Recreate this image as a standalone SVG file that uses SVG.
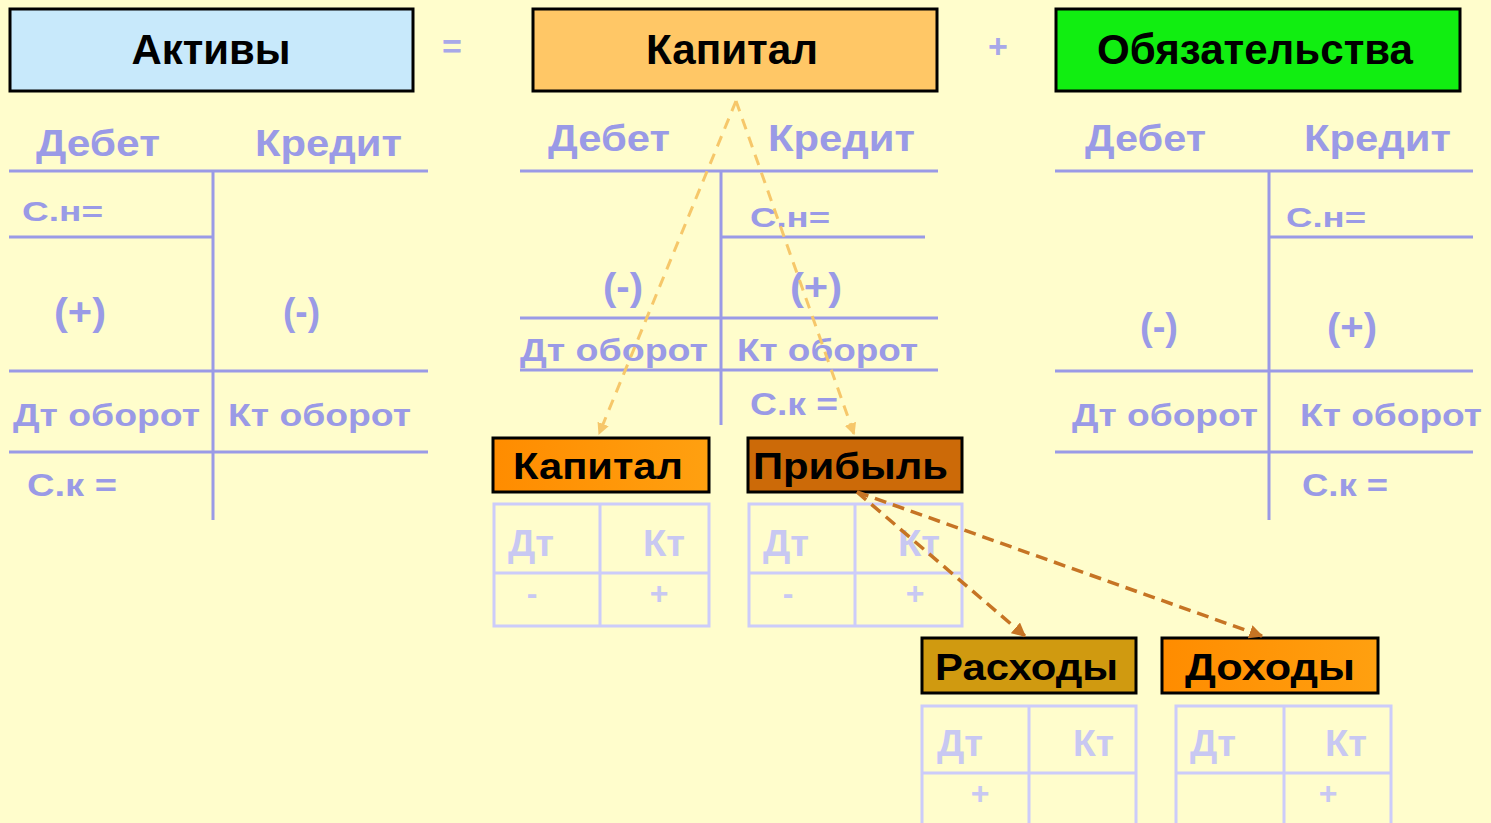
<svg xmlns="http://www.w3.org/2000/svg" width="1491" height="823" viewBox="0 0 1491 823">
<style>
text{font-family:"Liberation Sans",Arial,sans-serif;font-weight:bold}
.hd{font-size:42px;fill:#000;text-anchor:middle}
.box{stroke:#000;stroke-width:3}
.tl{stroke:#9A9AE6;stroke-width:3;fill:none}
.tt{fill:#9A9AE6}
.big{font-size:36px}
.sm{font-size:28px}
.par{font-size:38px}
.mid{font-size:31px}
.lab{font-size:36px;fill:#000}
.ft{stroke:#CCCCFA;stroke-width:3;fill:none}
.fx{fill:#C8C8F2;font-size:36px}
.fs{fill:#C8C8F2;font-size:32px;text-anchor:middle}
.sign{fill:#A8A8E8;font-size:34px;text-anchor:middle}
.c1{stroke:#F6C76A;stroke-width:3;stroke-dasharray:11 8;fill:none}
.c2{stroke:#C67424;stroke-width:3.5;stroke-dasharray:12 7;fill:none}
</style>
<defs>
<marker id="a1" viewBox="0 0 10 10" refX="9" refY="5" markerWidth="4" markerHeight="4" orient="auto"><path d="M0,0 L10,5 L0,10 z" fill="#F6C76A"/></marker>
<marker id="a2" viewBox="0 0 10 10" refX="9" refY="5" markerWidth="4" markerHeight="4" orient="auto"><path d="M0,0 L10,5 L0,10 z" fill="#C67424"/></marker>
<linearGradient id="og" x1="0" y1="0" x2="1" y2="0"><stop offset="0" stop-color="#FF8C00"/><stop offset="1" stop-color="#FFA010"/></linearGradient>
</defs>
<rect width="1491" height="823" fill="#FFFDCC"/>

<g id="aktivy">
<rect class="box" x="10" y="9" width="403" height="82" fill="#C8E9FB"/>
<text class="hd" x="211" y="64" textLength="159" lengthAdjust="spacingAndGlyphs">Активы</text>
</g>
<text id="eq" class="sign" x="452" y="58">=</text>
<g id="kapital">
<rect class="box" x="533" y="9" width="404" height="82" fill="#FFC766"/>
<text class="hd" x="732" y="64" textLength="172" lengthAdjust="spacingAndGlyphs">Капитал</text>
</g>
<text id="plus" class="sign" x="998" y="58">+</text>
<g id="obyaz">
<rect class="box" x="1056" y="9" width="404" height="82" fill="#11EE11"/>
<text class="hd" x="1255" y="64" textLength="316" lengthAdjust="spacingAndGlyphs">Обязательства</text>
</g>

<g id="t-aktivy">
<path class="tl" d="M9,171 H428 M213,171 V520 M9,237 H213 M9,371 H428 M9,452 H428"/>
<text class="tt big" x="36" y="156" textLength="124" lengthAdjust="spacingAndGlyphs">Дебет</text>
<text class="tt big" x="255" y="156" textLength="147" lengthAdjust="spacingAndGlyphs">Кредит</text>
<text class="tt sm" x="22" y="221" textLength="81" lengthAdjust="spacingAndGlyphs">С.н=</text>
<text class="tt par" x="54" y="325" textLength="52" lengthAdjust="spacingAndGlyphs">(+)</text>
<text class="tt par" x="283" y="325" textLength="37" lengthAdjust="spacingAndGlyphs">(-)</text>
<text class="tt mid" x="13" y="426" textLength="187" lengthAdjust="spacingAndGlyphs">Дт оборот</text>
<text class="tt mid" x="228" y="426" textLength="183" lengthAdjust="spacingAndGlyphs">Кт оборот</text>
<text class="tt mid" x="27" y="496" textLength="90" lengthAdjust="spacingAndGlyphs">С.к =</text>
</g>

<g id="t-kapital">
<path class="tl" d="M520,171 H938 M721,171 V425 M721,237 H925 M520,318 H938 M520,370 H938"/>
<text class="tt big" x="548" y="151" textLength="122" lengthAdjust="spacingAndGlyphs">Дебет</text>
<text class="tt big" x="768" y="151" textLength="147" lengthAdjust="spacingAndGlyphs">Кредит</text>
<text class="tt sm" x="750" y="227" textLength="80" lengthAdjust="spacingAndGlyphs">С.н=</text>
<text class="tt par" x="603" y="300" textLength="40" lengthAdjust="spacingAndGlyphs">(-)</text>
<text class="tt par" x="790" y="300" textLength="52" lengthAdjust="spacingAndGlyphs">(+)</text>
<text class="tt mid" x="520" y="361" textLength="188" lengthAdjust="spacingAndGlyphs">Дт оборот</text>
<text class="tt mid" x="737" y="361" textLength="181" lengthAdjust="spacingAndGlyphs">Кт оборот</text>
<text class="tt mid" x="750" y="415" textLength="88" lengthAdjust="spacingAndGlyphs">С.к =</text>
</g>

<g id="t-obyaz">
<path class="tl" d="M1055,171 H1473 M1269,171 V520 M1269,237 H1473 M1055,371 H1473 M1055,452 H1473"/>
<text class="tt big" x="1085" y="151" textLength="121" lengthAdjust="spacingAndGlyphs">Дебет</text>
<text class="tt big" x="1304" y="151" textLength="147" lengthAdjust="spacingAndGlyphs">Кредит</text>
<text class="tt sm" x="1286" y="227" textLength="80" lengthAdjust="spacingAndGlyphs">С.н=</text>
<text class="tt par" x="1140" y="340" textLength="38" lengthAdjust="spacingAndGlyphs">(-)</text>
<text class="tt par" x="1327" y="340" textLength="50" lengthAdjust="spacingAndGlyphs">(+)</text>
<text class="tt mid" x="1072" y="426" textLength="186" lengthAdjust="spacingAndGlyphs">Дт оборот</text>
<text class="tt mid" x="1300" y="426" textLength="182" lengthAdjust="spacingAndGlyphs">Кт оборот</text>
<text class="tt mid" x="1302" y="496" textLength="86" lengthAdjust="spacingAndGlyphs">С.к =</text>
</g>

<g id="kapital2">
<rect class="box" x="493" y="438" width="216" height="54" fill="url(#og)"/>
<text class="lab" x="513" y="479" textLength="170" lengthAdjust="spacingAndGlyphs">Капитал</text>
<path class="ft" d="M494,504 H709 V626 H494 Z M600,504 V626 M494,573 H709"/>
<text class="fx" x="508" y="556" textLength="46" lengthAdjust="spacingAndGlyphs">Дт</text>
<text class="fx" x="643" y="556" textLength="42" lengthAdjust="spacingAndGlyphs">Кт</text>
<text class="fs" x="532" y="604">-</text>
<text class="fs" x="659" y="604">+</text>
</g>

<g id="pribyl">
<rect class="box" x="748" y="438" width="214" height="54" fill="#CC6A08"/>
<text class="lab" x="753" y="479" textLength="195" lengthAdjust="spacingAndGlyphs">Прибыль</text>
<path class="ft" d="M749,504 H962 V626 H749 Z M855,504 V626 M749,573 H962"/>
<text class="fx" x="763" y="556" textLength="46" lengthAdjust="spacingAndGlyphs">Дт</text>
<text class="fx" x="898" y="556" textLength="42" lengthAdjust="spacingAndGlyphs">Кт</text>
<text class="fs" x="788" y="604">-</text>
<text class="fs" x="915" y="604">+</text>
</g>

<g id="raskhody">
<rect class="box" x="922" y="638" width="214" height="55" fill="#D09A10"/>
<text class="lab" x="935" y="680" textLength="183" lengthAdjust="spacingAndGlyphs">Расходы</text>
<path class="ft" d="M922,835 V706 H1136 V835 M1029,706 V835 M922,773 H1136"/>
<text class="fx" x="937" y="756" textLength="46" lengthAdjust="spacingAndGlyphs">Дт</text>
<text class="fx" x="1073" y="756" textLength="41" lengthAdjust="spacingAndGlyphs">Кт</text>
<text class="fs" x="980" y="804">+</text>
</g>

<g id="dokhody">
<rect class="box" x="1162" y="638" width="216" height="55" fill="url(#og)"/>
<text class="lab" x="1185" y="680" textLength="170" lengthAdjust="spacingAndGlyphs">Доходы</text>
<path class="ft" d="M1176,835 V706 H1391 V835 M1284,706 V835 M1176,773 H1391"/>
<text class="fx" x="1190" y="756" textLength="46" lengthAdjust="spacingAndGlyphs">Дт</text>
<text class="fx" x="1325" y="756" textLength="42" lengthAdjust="spacingAndGlyphs">Кт</text>
<text class="fs" x="1328" y="804">+</text>
</g>

<g id="connectors">
<path class="c1" d="M736,101 L599,434" marker-end="url(#a1)"/>
<path class="c1" d="M736,101 L854,434" marker-end="url(#a1)"/>
<path class="c2" d="M857,492 L1025,636" marker-end="url(#a2)"/>
<path class="c2" d="M857,492 L1262,636" marker-end="url(#a2)"/>
</g>
</svg>
